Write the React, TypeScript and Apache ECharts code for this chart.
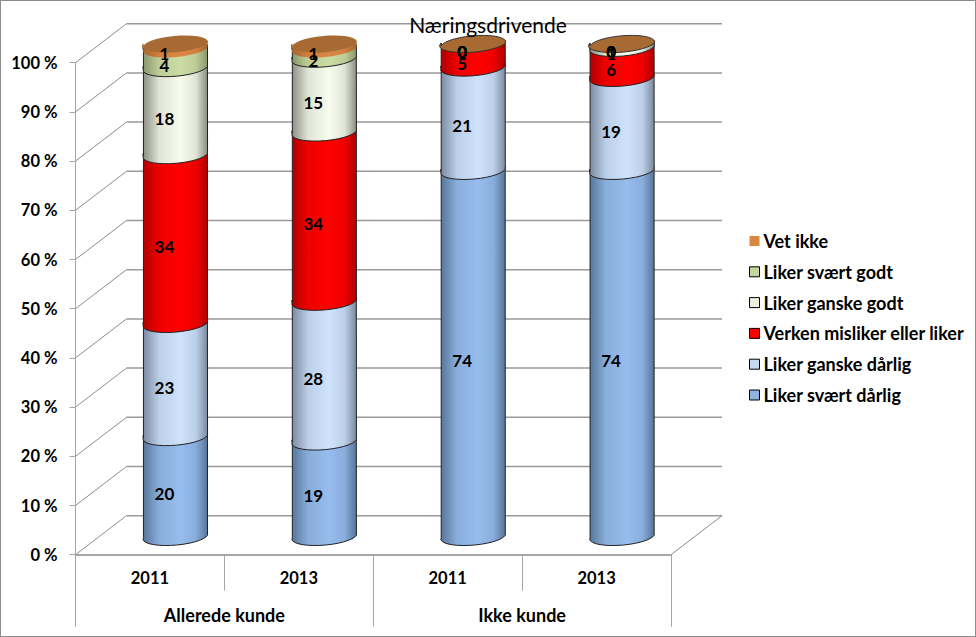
import React, { useEffect, useRef } from "react";
import * as echarts from "echarts";

const groups = ["Allerede kunde", "Ikke kunde"];
const years = ["2011", "2013", "2011", "2013"];
const yTicks = [0, 10, 20, 30, 40, 50, 60, 70, 80, 90, 100];

const seriesNames = [
  "Liker svært dårlig",
  "Liker ganske dårlig",
  "Verken misliker eller liker",
  "Liker ganske godt",
  "Liker svært godt",
  "Vet ikke",
];
const svaertDarlig = [20.3, 19.4, 74.4, 74.4];
const ganskeDarlig = [23.0, 28.4, 21.0, 18.9];
const verken = [34.3, 34.4, 4.6, 6.1];
const ganskeGodt = [17.7, 15.0, 0, 0.6];
const svaertGodt = [3.9, 2.0, 0, 0];
const vetIkke = [0.8, 0.8, 0, 0];
const allValues = [svaertDarlig, ganskeDarlig, verken, ganskeGodt, svaertGodt, vetIkke];

const baseColors = ["#97BDEE", "#CFE3FC", "#FF0000", "#F7FCEC", "#CBDCA4", "#DC8644"];
const edgeColors = ["#567598", "#7A899F", "#B00000", "#8A8F82", "#8A966C", "#A5642F"];
const legendColors = ["#8EB4E3", "#C6D9F1", "#FF0000", "#EBF1DE", "#C3D69B", "#DA8640"];
const capColor = "#A66A32";

const FONT = "Lato, Carlito, sans-serif";
const DEPTH_X = 51;
const DEPTH_Y = 39;
const RX = 32;
const RY = 8.5;
const TILT = 2.5;
const TILT_DEG = 4.5;

function segmentBounds(si: number, i: number) {
  let start = 0;
  for (let k = 0; k < si; k++) start += allValues[k][i];
  return [start, start + allValues[si][i]];
}

function renderWall(params: any, api: any) {
  const v = api.value(0);
  const y = api.coord([0, v])[1];
  const cs = params.coordSys;
  const L = cs.x;
  const R = cs.x + cs.width;
  const children: any[] = [
    {
      type: "line",
      shape: { x1: L, y1: y, x2: L + DEPTH_X, y2: y - DEPTH_Y },
      style: { stroke: "#8C8C8C", lineWidth: 1 },
    },
    {
      type: "line",
      shape: { x1: L + DEPTH_X, y1: y - DEPTH_Y, x2: R + DEPTH_X, y2: y - DEPTH_Y },
      style: { stroke: "#9A9A9A", lineWidth: 1.5 },
    },
  ];
  if (v === 0) {
    children.push({
      type: "line",
      shape: { x1: R, y1: y, x2: R + DEPTH_X, y2: y - DEPTH_Y },
      style: { stroke: "#8C8C8C", lineWidth: 1 },
    });
  }
  return { type: "group", children };
}

function renderSegment(si: number) {
  return (_params: any, api: any) => {
    const i = api.value(0);
    const p0 = api.coord([i, api.value(1)]);
    const p1 = api.coord([i, api.value(2)]);
    const cx = p0[0] + 25.5;
    const y0 = p0[1] - DEPTH_Y / 2;
    const y1 = p1[1] - DEPTH_Y / 2;
    const L = cx - RX;
    const R = cx + RX;
    const hasValue = api.value(2) - api.value(1) > 0;
    const sideD =
      `M ${L} ${y1 + TILT} L ${L} ${y0 + TILT} ` +
      `A ${RX} ${RY} ${-TILT_DEG} 0 0 ${R} ${y0 - TILT} ` +
      `L ${R} ${y1 - TILT} ` +
      `A ${RX} ${RY} ${-TILT_DEG} 0 1 ${L} ${y1 + TILT} Z`;
    const orange = si === seriesNames.length - 1;
    const mid = echarts.color.lerp(0.78, [edgeColors[si], baseColors[si]]) as string;
    const children: any[] = [];
    if (hasValue) {
      children.push({
        type: "path",
        z2: si * 2 + 1,
        shape: { pathData: sideD },
        style: {
          fill: {
            type: "linear",
            x: 0,
            y: 0,
            x2: 1,
            y2: 0,
            colorStops: [
              { offset: 0, color: edgeColors[si] },
              { offset: 0.25, color: mid },
              { offset: 0.58, color: baseColors[si] },
              { offset: 0.82, color: mid },
              { offset: 1, color: edgeColors[si] },
            ],
          },
          stroke: orange ? "none" : "#222222",
          lineWidth: 1,
        },
      });
    }
    if (orange) {
      children.push({
        type: "path",
        z2: 30,
        shape: {
          pathData:
            `M ${L} ${y1 + TILT} A ${RX} ${RY} ${-TILT_DEG} 0 1 ${R} ${y1 - TILT} ` +
            `A ${RX} ${RY} ${-TILT_DEG} 0 1 ${L} ${y1 + TILT} Z`,
        },
        style: {
          fill: capColor,
          stroke: hasValue ? "none" : "#333333",
          lineWidth: 1,
        },
      });
    }
    children.push({
      type: "text",
      z2: 100,
      style: {
        text: String(api.value(3)),
        x: cx - 11,
        y: (y0 + y1) / 2 + RY,
        align: "center",
        verticalAlign: "middle",
        font: `bold 17px ${FONT}`,
        fill: "#000000",
      },
    });
    return { type: "group", children };
  };
}

export default function App() {
  const ref = useRef<HTMLDivElement>(null);
  useEffect(() => {
    document.body.style.margin = "0";
    const chart = echarts.init(ref.current!, null, { renderer: "svg" });
    const labelStyle = { fontFamily: FONT, fontSize: 18, fontWeight: "bold" as const, color: "#000000" };
    chart.setOption({
      animation: false,
      title: {
        text: "Næringsdrivende",
        left: "center",
        top: 9,
        textStyle: { fontFamily: FONT, fontSize: 21, fontWeight: "normal", color: "#000000" },
      },
      grid: { left: 75.5, top: 62.7, width: 595.5, height: 492 },
      legend: {
        orient: "vertical",
        left: 744,
        top: 227,
        itemWidth: 10,
        itemHeight: 10,
        itemGap: 12.8,
        textStyle: { ...labelStyle, lineHeight: 16, padding: [0, 0, 0, -1] },
        data: seriesNames
          .map((name, si) => ({
            name,
            icon: "rect",
            itemStyle: {
              color: legendColors[si],
              borderColor: si === seriesNames.length - 1 ? "transparent" : "#000000",
              borderWidth: si === seriesNames.length - 1 ? 0 : 1,
            },
          }))
          .reverse(),
      },
      xAxis: [
        {
          type: "category",
          data: years,
          position: "bottom",
          z: 5,
          axisLine: { show: true, onZero: false, lineStyle: { color: "#A6A6A6", width: 2 } },
          axisTick: { show: true, length: 36, lineStyle: { color: "#A6A6A6", width: 1 } },
          axisLabel: { ...labelStyle, fontSize: 16.5, margin: 15, interval: 0 },
        },
        {
          type: "category",
          data: groups,
          position: "bottom",
          z: 5,
          axisLine: { show: false, onZero: false },
          axisTick: { show: true, length: 72, lineStyle: { color: "#A6A6A6", width: 1 } },
          axisLabel: { ...labelStyle, margin: 51, interval: 0 },
        },
      ],
      yAxis: {
        type: "value",
        min: 0,
        max: 100,
        interval: 10,
        z: 5,
        axisLine: { show: true, onZero: false, lineStyle: { color: "#A6A6A6", width: 1 } },
        axisTick: { show: true, length: 6, lineStyle: { color: "#A6A6A6", width: 1 } },
        splitLine: { show: false },
        axisLabel: { ...labelStyle, fontSize: 16.5, margin: 18, formatter: "{value} %" },
      },
      series: [
        {
          type: "custom",
          name: "wall",
          z: 1,
          silent: true,
          renderItem: renderWall,
          encode: { y: 0 },
          data: yTicks.map((v) => [v]),
        },
        ...seriesNames.map((name, si) => ({
          type: "custom",
          name,
          z: 2,
          renderItem: renderSegment(si),
          itemStyle: { color: legendColors[si] },
          encode: { x: 0, y: [1, 2] },
          data: years.map((_, i) => {
            const [start, end] = segmentBounds(si, i);
            return [i, start, end, Math.round(allValues[si][i])];
          }),
        })),
      ],
    });
    return () => chart.dispose();
  }, []);
  return (
    <div style={{ position: "relative", width: 976, height: 637, background: "#FFFFFF" }}>
      <div ref={ref} style={{ width: 976, height: 637 }} />
      <div
        style={{
          position: "absolute",
          left: 0,
          top: 0,
          width: 976,
          height: 637,
          boxSizing: "border-box",
          border: "1.5px solid #8C8C8C",
          pointerEvents: "none",
        }}
      />
    </div>
  );
}
